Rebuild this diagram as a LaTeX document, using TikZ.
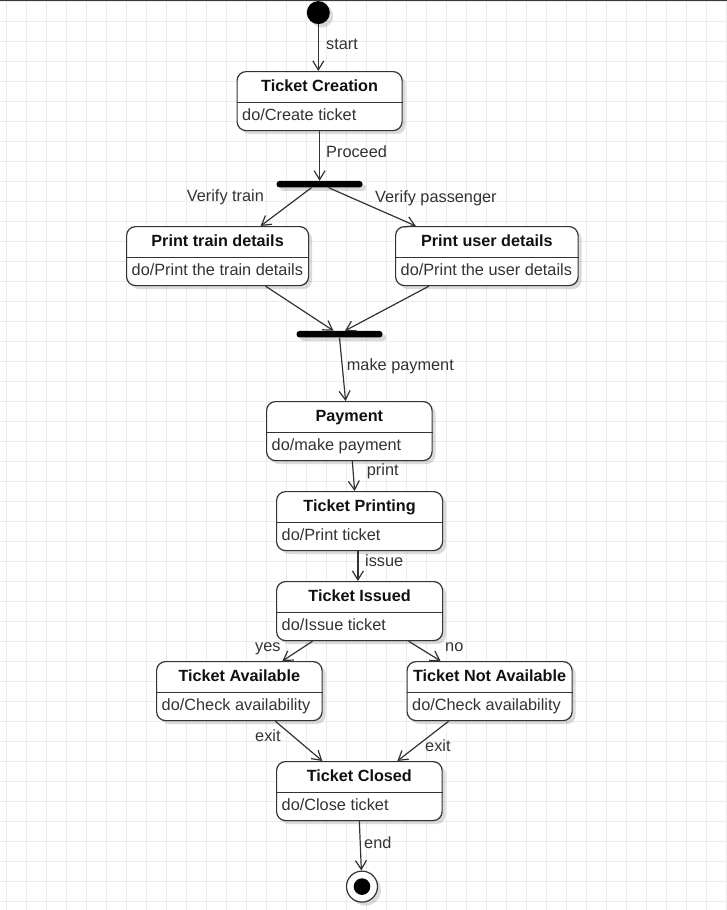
\documentclass[tikz,border=0pt]{standalone}
\usepackage{fontspec}
\setmainfont{Liberation Sans}
\usetikzlibrary{arrows.meta,shadows}

\definecolor{gridgray}{HTML}{ECECEC}
\definecolor{lineclr}{HTML}{333333}
\definecolor{titleclr}{HTML}{111111}
\definecolor{bodyclr}{HTML}{333333}
\definecolor{edgeclr}{HTML}{3A3A3A}

\tikzset{
  gridline/.style={draw=gridgray, line width=1pt},
  topedge/.style={draw=edgeclr, line width=1.4pt},
  softshadow/.style={drop shadow={shadow xshift=3.5pt, shadow yshift=-3.5pt, opacity=0.14, fill=black}},
  statebox/.style={draw=lineclr, line width=1.2pt, fill=white, rounded corners=9pt,
    minimum height=59pt, inner sep=0pt, softshadow},
  divider/.style={draw=lineclr, line width=1.2pt},
  titletext/.style={text=titleclr, font=\fontsize{16.2}{19}\selectfont\bfseries, inner sep=0pt},
  bodytext/.style={text=bodyclr, font=\fontsize{16.3}{19}\selectfont, inner sep=0pt},
  syncbar/.style={fill=black, draw=none, rounded corners=3pt, minimum height=6.5pt,
    inner sep=0pt, softshadow},
  initstate/.style={circle, fill=black, draw=none, minimum size=23pt, inner sep=0pt, softshadow},
  finalstate/.style={circle, fill=white, draw=lineclr, line width=1.2pt, minimum size=31pt,
    inner sep=0pt, softshadow},
  arr/.style={draw=lineclr, line width=1.2pt, -{Straight Barb[length=9pt,width=11pt]}},
  labeltext/.style={text=bodyclr, font=\fontsize{16.3}{19}\selectfont, inner sep=0pt, anchor=base west},
}

% state box: name, left, top, width, title, activity
\newcommand\StateBox[6]{%
  \node[statebox, minimum width=#4pt, anchor=north west] (#1) at (#2,#3) {};
  \draw[divider] ([yshift=-31.5pt]#1.north west) -- ([yshift=-31.5pt]#1.north east);
  \node[titletext, anchor=base] (#1-title) at ([yshift=-20.7pt]#1.north) {#5};
  \node[bodytext, anchor=base west] (#1-body) at ([xshift=5.5pt,yshift=-49pt]#1.north west) {#6};
}

\begin{document}
\begin{tikzpicture}[x=1pt, y=-1pt]
  \useasboundingbox (0,0) rectangle (727,910);
  \fill[white] (0,0) rectangle (727,910);

  % background grid
  \foreach \gx in {0,...,36} \draw[gridline] (6.7+20*\gx,0) -- (6.7+20*\gx,910);
  \foreach \gy in {0,...,45} \draw[gridline] (0,1.7+20*\gy) -- (727,1.7+20*\gy);
  \draw[topedge] (0,0.7) -- (727,0.7);

  % initial and final states
  \node[initstate] (start) at (318.3,12.6) {};
  \node[finalstate] (final) at (362,886.6) {};
  \fill[black] (final.center) circle (8.3pt);

  % fork and join bars
  \node[syncbar, minimum width=86pt] (fork) at (319.5,184.2) {};
  \node[syncbar, minimum width=86pt] (join) at (339.5,334.2) {};

  % states
  \StateBox{creation}{236.5}{71}{165}{Ticket Creation}{do/Create ticket}
  \StateBox{train}{126}{226}{182}{Print train details}{do/Print the train details}
  \StateBox{user}{395}{226}{182.5}{Print user details}{do/Print the user details}
  \StateBox{payment}{266}{401}{165.5}{Payment}{do/make payment}
  \StateBox{printing}{276}{491}{166}{Ticket Printing}{do/Print ticket}
  \StateBox{issued}{276}{581}{166}{Ticket Issued}{do/Issue ticket}
  \StateBox{avail}{156}{661}{165.5}{Ticket Available}{do/Check availability}
  \StateBox{notavail}{406.5}{661}{165}{Ticket Not Available}{do/Check availability}
  \StateBox{closed}{276}{761}{165.5}{Ticket Closed}{do/Close ticket}

  % transitions
  \draw[arr] (start) -- (start |- creation.north);
  \draw[arr] (creation.south) -- (creation.south |- fork.north);
  \draw[arr] ([xshift=-8pt]fork.south) -- ([xshift=43pt]train.north);
  \draw[arr] ([xshift=9pt]fork.south) -- ([xshift=-71pt]user.north);
  \draw[arr] ([xshift=48pt]train.south) -- ([xshift=-6pt]join.north);
  \draw[arr] ([xshift=-58pt]user.south) -- ([xshift=5.5pt]join.north);
  \draw[arr] (join.south) -- ([xshift=-3.75pt]payment.north);
  \draw[arr] ([xshift=3pt]payment.south) -- ([xshift=-5pt]printing.north);
  \draw[arr] ([xshift=-1.7pt]printing.south) -- ([xshift=-1.7pt]issued.north);
  \draw[arr] ([xshift=-47pt]issued.south) -- ([xshift=43pt]avail.north);
  \draw[arr] ([xshift=49pt]issued.south) -- ([xshift=-49pt]notavail.north);
  \draw[arr] ([xshift=36pt]avail.south) -- ([xshift=-37pt]closed.north);
  \draw[arr] ([xshift=-41pt]notavail.south) -- ([xshift=38pt]closed.north);
  \draw[arr] (closed.south) -- (final);

  % transition labels
  \node[labeltext] (l-start) at (326,49.3) {start};
  \node[labeltext] (l-proceed) at (326,157.3) {Proceed};
  \node[labeltext] (l-vtrain) at (186.7,201.7) {Verify train};
  \node[labeltext] (l-vpass) at (375,202.7) {Verify passenger};
  \node[labeltext] (l-pay) at (346.7,370) {make payment};
  \node[labeltext] (l-print) at (366.7,475.7) {print};
  \node[labeltext] (l-issue) at (365,566.7) {issue};
  \node[labeltext] (l-yes) at (255,651.7) {yes};
  \node[labeltext] (l-no) at (445,651.7) {no};
  \node[labeltext] (l-exit1) at (255,741.7) {exit};
  \node[labeltext] (l-exit2) at (425,751.7) {exit};
  \node[labeltext] (l-end) at (364,848.3) {end};
\end{tikzpicture}
\end{document}
